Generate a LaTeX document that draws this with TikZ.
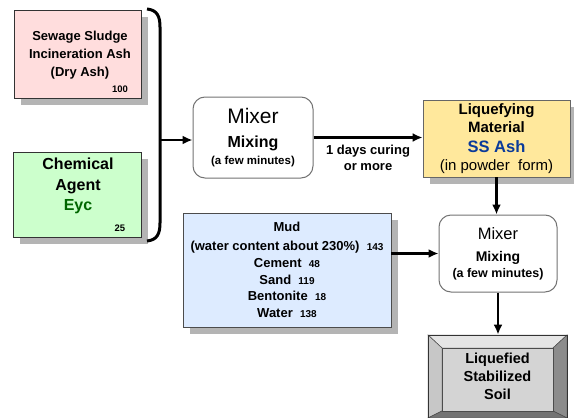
\documentclass[tikz,border=0pt]{standalone}
\usepackage{fontspec}
\setmainfont{Liberation Sans}
\usetikzlibrary{arrows.meta, positioning, shadows, calc}
\definecolor{ashPink}{HTML}{FFDDDD}
\definecolor{agentGreen}{HTML}{CCFFCC}
\definecolor{liqYellow}{HTML}{FFE89C}
\definecolor{mudBlue}{HTML}{DDEBFF}
\definecolor{eycGreen}{HTML}{006600}
\definecolor{ssBlue}{HTML}{0A3A9A}
\definecolor{shadowGray}{HTML}{B4B4B4}

\begin{document}
\begin{tikzpicture}[x=1pt, y=-1pt,
    box/.style={draw=black!80, line width=0.8pt, inner sep=0pt, align=center,
      drop shadow={shadow xshift=7pt, shadow yshift=-7pt, fill=shadowGray, opacity=1}},
    mixer/.style={draw=black!55, line width=1pt, rounded corners=12pt, fill=white,
      inner sep=0pt, align=center, font=\bfseries\fontsize{12}{17}\selectfont},
    flow/.style={line width=2.6pt, -{Latex[length=10pt, width=9pt]}},
    qty/.style={font=\bfseries\fontsize{9.5}{10}\selectfont, inner sep=0pt, anchor=base}]
    \useasboundingbox (0,0) rectangle (574,418);

    % raw materials
    \node[box, fill=ashPink, minimum width=127pt, minimum height=88pt] (ash) at (77.5,54) {};
    \node[align=center, font=\bfseries\fontsize{13}{18}\selectfont] (ashText) at (80,55)
      {Sewage Sludge\\Incineration Ash\\(Dry Ash)};
    \node[qty] (ashQty) at (120,92) {100};
    \node[box, fill=agentGreen, minimum width=128pt, minimum height=85pt] (agent) at (77,194.5) {};
    \node[align=center, font=\bfseries\fontsize{16}{20.5}\selectfont] (agentText) at (78,186)
      {Chemical\\Agent\\{\color{eycGreen}Eyc}};
    \node[qty] (agentQty) at (120,231) {25};

    % bracket joining both inputs
    \coordinate (braceTop) at (147,9);
    \coordinate (braceBot) at (147,241);
    \coordinate (braceTip) at (160,140);
    \draw[line width=3pt] (braceTop) .. controls (157,10) and (160,16) .. (160,27)
      -- (160,223) .. controls (160,234) and (157,240) .. (braceBot);

    % first mixing step
    \node[mixer, minimum width=120pt, minimum height=81pt] (mixA) at (253,137.5)
      {{\mdseries\fontsize{21}{21}\selectfont Mixer}\\[7pt]
       {\fontsize{16}{17}\selectfont Mixing}\\
       {\fontsize{11.5}{12}\selectfont (a few minutes)}};
    \node[box, fill=liqYellow, draw=black!60, minimum width=147pt, minimum height=77pt,
      font=\bfseries\fontsize{15}{18}\selectfont] (liq) at (496.5,138.5)
      {Liquefying\\Material\\[2pt]{\color{ssBlue}\fontsize{16.5}{17}\selectfont SS Ash}\\
       {\mdseries (in powder\ \ form)}};

    % mud mixture
    \node[box, fill=mudBlue, draw=black!70, minimum width=208pt, minimum height=114pt,
      font=\bfseries\fontsize{13}{16.8}\selectfont] (mud) at (287,270)
      {Mud\\[2pt](water content about 230\%)\ \ {\fontsize{10}{10}\selectfont 143}\\
       Cement\ \ {\fontsize{10}{10}\selectfont 48}\\
       Sand\ \ {\fontsize{10}{10}\selectfont 119}\\
       Bentonite\ \ {\fontsize{10}{10}\selectfont 18}\\
       Water\ \ {\fontsize{10}{10}\selectfont 138}};

    % second mixing step
    \node[mixer, minimum width=118pt, minimum height=77pt] (mixB) at (498,253.5)
      {{\mdseries\fontsize{16.5}{17}\selectfont Mixer}\\[5pt]
       {\fontsize{14}{16}\selectfont Mixing}\\[-1pt]
       {\fontsize{12.5}{13}\selectfont (a few minutes)}};

    % bevelled product box
    \path (428,335) coordinate (soilNW) (567,335) coordinate (soilNE)
          (428,418) coordinate (soilSW) (567,418) coordinate (soilSE)
          (442,348) coordinate (soilInNW) (553,348) coordinate (soilInNE)
          (442,411) coordinate (soilInSW) (553,411) coordinate (soilInSE);
    \foreach \fc/\pa/\pb/\pc/\pd in
      {black!10/soilNW/soilNE/soilInNE/soilInNW, black!22/soilNW/soilSW/soilInSW/soilInNW,
       black!45/soilNE/soilSE/soilInSE/soilInNE, black!55/soilSW/soilSE/soilInSE/soilInSW} {
      \filldraw[fill=\fc, draw=black!70, line width=0.5pt] (\pa) -- (\pb) -- (\pc) -- (\pd) -- cycle;
    }
    \filldraw[fill=black!17, draw=black!70, line width=0.5pt] (soilInNW) rectangle (soilInSE);
    \node[draw=black!80, line width=0.8pt, minimum width=139pt, minimum height=83pt, align=center,
      font=\bfseries\fontsize{14.5}{18}\selectfont] (soil) at (497.5,376.5)
      {Liquefied\\Stabilized\\Soil};

    % flow arrows
    \draw[flow] (braceTip) -- (braceTip -| mixA.west);
    \draw[flow] (mixA.east) -- (mixA.east -| liq.west)
      node[midway, below=3pt, align=center, font=\bfseries\fontsize{13}{16}\selectfont] (cureNote)
      {1 days curing\\or more};
    \draw[flow] (liq.south) -- (liq.south |- mixB.north);
    \draw[flow] (mixB.west -| mud.east) -- (mixB.west);
    \draw[flow] (mixB.south) -- (mixB.south |- soil.north);
\end{tikzpicture}
\end{document}
